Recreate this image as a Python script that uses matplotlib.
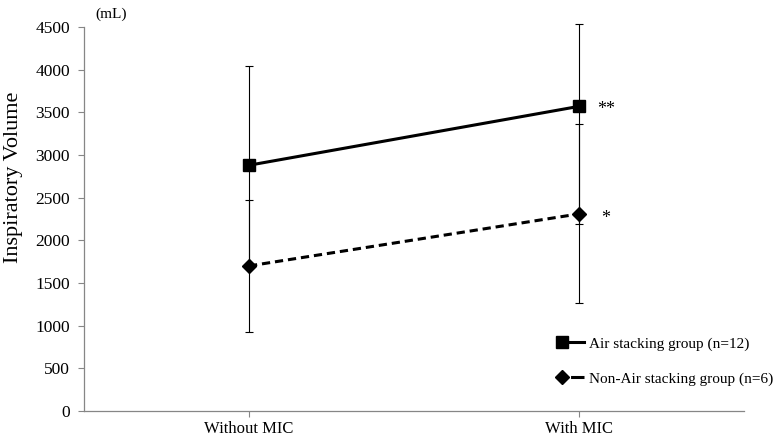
import matplotlib
matplotlib.use("Agg")
import matplotlib.pyplot as plt
from matplotlib.lines import Line2D
from matplotlib.legend_handler import HandlerLine2D

plt.rcParams['font.family'] = ['Liberation Serif', 'DejaVu Serif']

categories = ["Without MIC", "With MIC"]
air_mean = [2880, 3570]
air_err_low = [1160, 1380]
air_err_high = [1160, 970]
non_mean = [1700, 2310]
non_err_low = [770, 1050]
non_err_high = [770, 1050]
air_label = "Air stacking group (n=12)"
non_label = "Non-Air stacking group (n=6)"
y_ticks = [0, 500, 1000, 1500, 2000, 2500, 3000, 3500, 4000, 4500]

DASH = (0, (2.7, 1.6))

fig = plt.figure(figsize=(7.77, 4.41), dpi=100)
ax = fig.add_axes([84/777, 1-411/441, (744-84)/777, (411-27)/441])

x = list(range(len(categories)))

eb_kw = dict(fmt='none', ecolor='black', elinewidth=0.8, capsize=3, capthick=0.8, clip_on=False)
e1 = ax.errorbar(x, air_mean, yerr=[air_err_low, air_err_high], zorder=2, **eb_kw)
e2 = ax.errorbar(x, non_mean, yerr=[non_err_low, non_err_high], zorder=2, **eb_kw)
for e in (e1, e2):
    for art in e.get_children():
        art.set_clip_on(False)

ax.plot(x, air_mean, color='black', lw=2.2, marker='s', markersize=9, zorder=3, clip_on=False)
ax.plot(x, non_mean, color='black', lw=2.2, ls=DASH, marker='D', markersize=7, zorder=3, clip_on=False)

ax.annotate("**", xy=(x[1], air_mean[1]), xytext=(13, -2), textcoords='offset points',
            ha='left', va='center', fontsize=13)
ax.annotate("*", xy=(x[1], non_mean[1]), xytext=(16, -3), textcoords='offset points',
            ha='left', va='center', fontsize=13)

ax.set_xlim(-0.5, 1.5)
ax.set_ylim(0, 4500)
ax.set_yticks(y_ticks)
ax.set_xticks(x)
ax.set_xticklabels(categories, fontsize=12)
ax.tick_params(axis='y', labelsize=12.5, length=4, width=0.8, color='#868686', pad=6)
ax.tick_params(axis='x', length=4, width=0.8, color='#868686', pad=3)
for s in ('top', 'right'):
    ax.spines[s].set_visible(False)
for s in ('left', 'bottom'):
    ax.spines[s].set_color('#868686')
    ax.spines[s].set_linewidth(0.9)

fig.text(14/777, 1-177/441, "Inspiratory Volume", fontsize=16, rotation=90,
         ha='center', va='center')
fig.text(95/777, 1-14/441, "(mL)", fontsize=11, ha='left', va='center')


class LeftMarkerHandler(HandlerLine2D):
    def create_artists(self, legend, orig_handle, xdescent, ydescent, width, height, fontsize, trans):
        arts = super().create_artists(legend, orig_handle, xdescent, ydescent, width, height, fontsize, trans)
        for a in arts:
            a.set_markevery([0])
        return arts


h1 = Line2D([0, 1], [0, 0], color='black', lw=2.2, marker='s', markersize=9)
h2 = Line2D([0, 1], [0, 0], color='black', lw=2.2, ls=(0, (1.2, 1.6, 4.5, 2)), marker='D', markersize=7)
ax.legend([h1, h2], [air_label, non_label], loc='upper left',
          bbox_to_anchor=(557.5/777, 1-337/441), bbox_transform=fig.transFigure,
          frameon=False, fontsize=11, numpoints=2, handlelength=2.03,
          handletextpad=0.0, labelspacing=1.38, borderpad=0, borderaxespad=0,
          handler_map={Line2D: LeftMarkerHandler()})

fig.savefig("out.png", dpi=100)
